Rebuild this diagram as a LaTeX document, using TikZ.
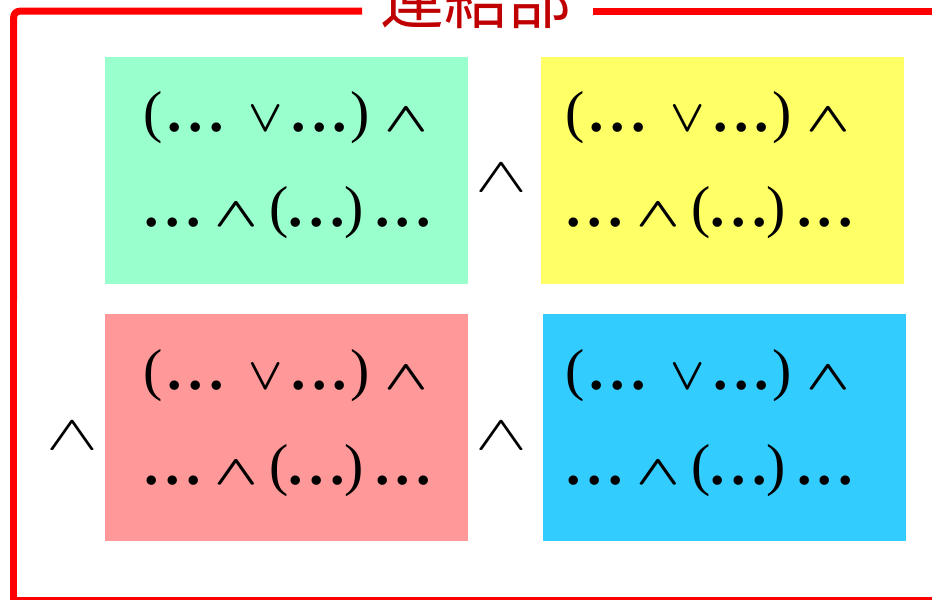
\RequirePackage{fix-cm}
\documentclass[tikz,border=0pt]{standalone}
\usepackage{fontspec}
\usepackage{graphicx}
\setmainfont{Liberation Serif}
\newfontfamily\cjkfont{Noto Sans CJK JP}
\definecolor{cgreen}{HTML}{99FFCC}
\definecolor{cyellow}{HTML}{FFFF66}
\definecolor{cpink}{HTML}{FF9999}
\definecolor{cblue}{HTML}{33CCFF}
\definecolor{framered}{HTML}{FF0000}
\definecolor{titlered}{HTML}{C00000}
\newcommand\inwedge{\scalebox{1.3}[0.95]{\fontsize{44}{44}\selectfont\boldmath$\wedge$}}
\newcommand\invee{{\fontsize{45}{45}\selectfont\boldmath$\vee$}}
\newcommand\dotsgroup{\textbf{.}\hspace{6.5bp}\textbf{.}\hspace{6.5bp}\textbf{.}}
\newcommand\clauseone{(\hspace{5bp}\dotsgroup\hspace{25bp}\invee\hspace{8bp}\dotsgroup\hspace{3bp})\hspace{15bp}\inwedge}
\newcommand\clausetwo{\dotsgroup\hspace{14bp}\inwedge\hspace{11bp}(\dotsgroup)\hspace{11bp}\dotsgroup}
\tikzset{
  colbox/.style={anchor=north west, inner sep=0pt, minimum width=363bp, minimum height=227bp},
  cline/.style={anchor=base west, inner sep=0pt, font=\fontsize{58}{58}\selectfont},
  sepwedge/.style={inner sep=0pt, font=\fontsize{63}{63}\selectfont},
  frameline/.style={draw=framered, line width=7bp},
}
\begin{document}
\begin{tikzpicture}[x=1bp,y=-1bp]
\useasboundingbox (0,0) rectangle (932,600);
% frame
\draw[frameline, rounded corners=6bp] (362,11.2) -- (13.7,11.2) -- (13.7,300);
\draw[frameline] (13.7,290) -- (13.7,600) -- (940,600);
\draw[frameline] (593,11.2) -- (940,11.2);
\node[text=titlered, font=\cjkfont\fontsize{64}{64}\selectfont, anchor=base, inner sep=0pt] (title) at (476,24) {連結部};
% boxes
\node[colbox, fill=cgreen] (g) at (105,57) {};
\node[colbox, fill=cyellow] (y) at (541,57) {};
\node[colbox, fill=cpink] (p) at (105,314) {};
\node[colbox, fill=cblue] (b) at (543,314) {};
% texts
\node[cline] (g1) at (143,132) {\clauseone};
\node[cline] (g2) at (144,227) {\clausetwo};
\node[cline] (y1) at (565,132) {\clauseone};
\node[cline] (y2) at (566,227) {\clausetwo};
\node[cline] (p1) at (143,389) {\clauseone};
\node[cline] (p2) at (144,484) {\clausetwo};
\node[cline] (b1) at (565,389) {\clauseone};
\node[cline] (b2) at (566,484) {\clausetwo};
% separators
\node[sepwedge] (w1) at (501,178) {\scalebox{1.24}[0.78]{$\wedge$}};
\node[sepwedge] (w2) at (501,436) {\scalebox{1.24}[0.78]{$\wedge$}};
\node[sepwedge] (w3) at (72,436) {\scalebox{1.24}[0.78]{$\wedge$}};
\end{tikzpicture}
\end{document}
